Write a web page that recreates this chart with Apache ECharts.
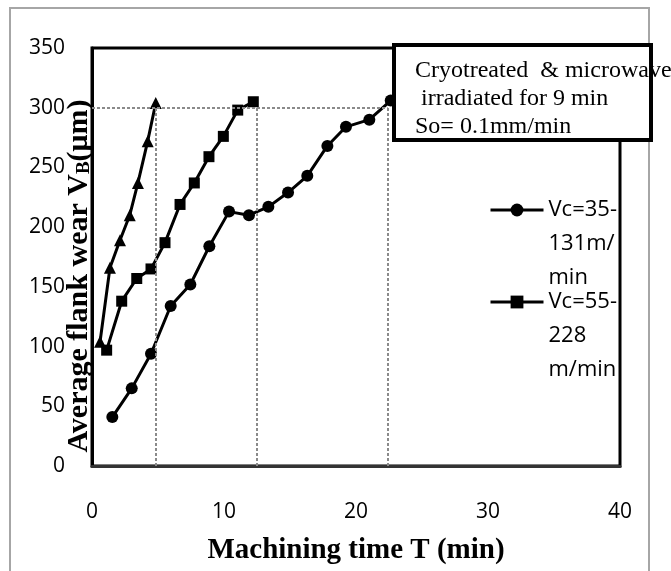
<!DOCTYPE html>
<html>
<head>
<meta charset="utf-8">
<script src="https://cdn.jsdelivr.net/npm/echarts@6/dist/echarts.min.js"></script>
<style>html,body{margin:0;padding:0;background:#fff;}#c{width:671px;height:571px;}</style>
</head>
<body>
<div id="c"></div>
<script>
// ---- data ----
const xCircle = [1.54, 3.01, 4.47, 5.96, 7.45, 8.89, 10.38, 11.89, 13.36, 14.85, 16.31, 17.83, 19.24, 21.01, 22.63];
const yCircle = [41, 65, 94, 134, 152, 184, 213, 210, 217, 229, 243, 268, 284, 290, 306];
const xSquare = [1.11, 2.25, 3.39, 4.47, 5.53, 6.67, 7.75, 8.86, 9.95, 11.04, 12.22];
const ySquare = [97, 138, 157, 165, 187, 219, 237, 259, 276, 298, 305];
const xTri = [0.61, 1.36, 2.12, 2.86, 3.48, 4.22, 4.83];
const yTri = [104, 166, 189, 210, 237, 272, 304];
const toolLifeTimes = [4.85, 12.5, 22.4];
const wearCriterion = 300;
const seriesNames = ['Vc=35-131m/min', 'Vc=55-228 m/min', 'Vc=75-3xx m/min'];
const legendLabels = ['\n\nVc=35-\n131m/\nmin', '\n\nVc=55-\n228\nm/min'];
const noteText = 'Cryotreated  & microwave\n irradiated for 9 min\nSo= 0.1mm/min';

const zip = (xs, ys) => xs.map((x, i) => [x, ys[i]]);
const SANS = '"Open Sans", "Liberation Sans", sans-serif';
const SERIF = '"Liberation Serif", "DejaVu Serif", serif';

const refLines = [[{coord: [0, wearCriterion]}, {coord: [toolLifeTimes[2], wearCriterion]}]]
  .concat(toolLifeTimes.map(t => [{coord: [t, 0]}, {coord: [t, wearCriterion]}]));

const lineBase = {
  type: 'line',
  lineStyle: {color: '#000', width: 3},
  itemStyle: {color: '#000'},
  showSymbol: true,
  animation: false,
  z: 3
};

const chart = echarts.init(document.getElementById('c'), null, {renderer: 'canvas'});
chart.setOption({
  animation: false,
  backgroundColor: '#fff',
  grid: {left: 92, right: 51, top: 48, bottom: 105, show: true, borderColor: '#000', borderWidth: 3,
    backgroundColor: 'transparent', outerBoundsMode: 'none', containLabel: false},
  xAxis: {
    type: 'value', min: 0, max: 40, interval: 10,
    axisLine: {show: true, lineStyle: {color: '#333', width: 3}},
    axisTick: {show: false},
    splitLine: {show: false},
    axisLabel: {color: '#000', fontFamily: SANS, fontSize: 21, margin: 36},
    name: 'Machining time T (min)', nameLocation: 'middle', nameGap: 70, nameMoveOverlap: false,
    nameTextStyle: {color: '#000', fontFamily: SERIF, fontWeight: 'bold', fontSize: 29}
  },
  yAxis: {
    type: 'value', min: 0, max: 350, interval: 50,
    axisLine: {show: true, lineStyle: {color: '#000', width: 3}},
    axisTick: {show: false},
    splitLine: {show: false},
    axisLabel: {color: '#000', fontFamily: SANS, fontSize: 21, margin: 27},
    name: '{a|Average flank wear V}{b|B}{a|(μm)}', nameLocation: 'middle', nameGap: -2, nameRotate: 90,
    nameMoveOverlap: false,
    nameTextStyle: {
      color: '#000', padding: [0, 38, 0, 0],
      rich: {
        a: {fontFamily: SERIF, fontWeight: 'bold', fontSize: 30, color: '#000'},
        b: {fontFamily: SERIF, fontWeight: 'bold', fontSize: 19, color: '#000', padding: [10, 0, 0, 0]}
      }
    }
  },
  legend: [0, 1].map(i => ({
    data: [seriesNames[i]],
    left: 489, top: i === 0 ? 125 : 217,
    padding: 0, itemGap: 0,
    itemWidth: 53, itemHeight: 16,
    lineStyle: {width: 3, color: '#000'},
    itemStyle: {color: '#000'},
    formatter: () => legendLabels[i],
    textStyle: {color: '#000', fontFamily: SANS, fontSize: 22, lineHeight: 34}
  })),
  series: [
    Object.assign({}, lineBase, {name: seriesNames[0], data: zip(xCircle, yCircle), symbol: 'circle', symbolSize: 12,
      markLine: {silent: true, symbol: 'none', label: {show: false}, animation: false,
        lineStyle: {type: [3, 2], color: '#8a8a8a', width: 2}, data: refLines}}),
    Object.assign({}, lineBase, {name: seriesNames[1], data: zip(xSquare, ySquare), symbol: 'rect', symbolSize: 11}),
    Object.assign({}, lineBase, {name: seriesNames[2], data: zip(xTri, yTri), symbol: 'triangle', symbolSize: 12})
  ],
  graphic: [
    {type: 'rect', z: 0, silent: true, shape: {x: 10, y: 8, width: 639, height: 620},
      style: {fill: 'none', stroke: '#a6a6a6', lineWidth: 2}},
    {type: 'rect', z: 100, silent: true, shape: {x: 394, y: 45, width: 257, height: 95},
      style: {fill: '#fff', stroke: '#000', lineWidth: 4}},
    {type: 'text', z: 101, silent: true, x: 415, y: 57,
      style: {text: noteText, fill: '#000', font: '24px "Liberation Serif", serif', lineHeight: 28}}
  ]
});
</script>
</body>
</html>
